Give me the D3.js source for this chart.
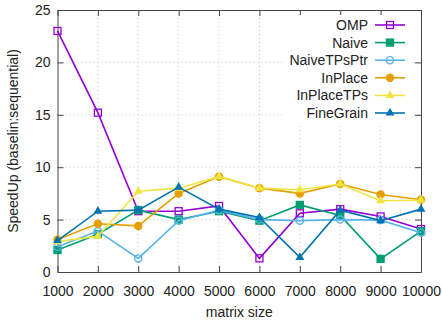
<!DOCTYPE html>
<html>
<head>
<meta charset="utf-8">
<script src="https://cdn.jsdelivr.net/npm/d3@7"></script>
<style>
  body { margin: 0; background: #fff; }
  text { font-family: "Liberation Sans", Arial, sans-serif; fill: #222; }
</style>
</head>
<body>
<div class="canvas"></div>
<script>
// data
const sizes = [1000, 2000, 3000, 4000, 5000, 6000, 7000, 8000, 9000, 10000];
const yTicks = [0, 5, 10, 15, 20, 25];

const omp = [23.0, 15.2, 5.8, 5.8, 6.3, 1.3, 5.6, 6.0, 5.3, 4.1];
const naive = [2.1, 3.6, 5.9, 5.0, 5.8, 4.9, 6.4, 5.4, 1.25, 3.9];
const naiveTPsPtr = [2.4, 3.9, 1.3, 4.9, 5.9, 5.0, 4.9, 5.0, 4.95, 3.75];
const inPlace = [3.1, 4.6, 4.4, 7.5, 9.1, 8.0, 7.5, 8.4, 7.4, 6.9];
const inPlaceTPs = [2.9, 3.4, 7.7, 8.0, 9.1, 8.0, 7.85, 8.4, 6.8, 6.85];
const fineGrain = [3.0, 5.8, 5.9, 8.1, 6.0, 5.2, 1.4, 5.9, 4.9, 6.0];

const seriesNames = ['OMP', 'Naive', 'NaiveTPsPtr', 'InPlace', 'InPlaceTPs', 'FineGrain'];
const seriesValues = [omp, naive, naiveTPsPtr, inPlace, inPlaceTPs, fineGrain];
const colors = ['#9400d3', '#009e73', '#56b4e9', '#e69f00', '#f0e442', '#0072b2'];
const markers = ['squareOpen', 'square', 'circleOpen', 'circle', 'triangle', 'triangle'];

const width = 442, height = 325;
const margin = { top: 10, right: 21, bottom: 53, left: 57.5 };
const graphWidth = width - margin.left - margin.right;
const graphHeight = height - margin.top - margin.bottom;

const svg = d3.select('.canvas')
  .append('svg')
  .attr('width', width)
  .attr('height', height);

const graph = svg.append('g')
  .attr('transform', `translate(${margin.left}, ${margin.top})`);

const x = d3.scaleLinear().domain([1000, 10000]).range([0, graphWidth]);
const y = d3.scaleLinear().domain([0, 25]).range([graphHeight, 0]);

// grid
graph.append('g').selectAll('line')
  .data(sizes.slice(1, -1))
  .enter().append('line')
  .attr('x1', d => x(d)).attr('x2', d => x(d))
  .attr('y1', 0).attr('y2', graphHeight)
  .attr('stroke', '#c8c8c8').attr('stroke-dasharray', '1,3');

graph.append('g').selectAll('line')
  .data(yTicks.slice(1, -1))
  .enter().append('line')
  .attr('x1', 0).attr('x2', graphWidth)
  .attr('y1', d => y(d)).attr('y2', d => y(d))
  .attr('stroke', '#c8c8c8').attr('stroke-dasharray', '1,3');

// axes (inward ticks, mirrored)
const xAxis = d3.axisBottom(x).tickValues(sizes).tickFormat(d3.format('d'))
  .tickSizeInner(-6).tickSizeOuter(0).tickPadding(14);
const yAxis = d3.axisLeft(y).tickValues(yTicks).tickFormat(d3.format('d'))
  .tickSizeInner(-6).tickSizeOuter(0).tickPadding(7);

const xAxisGroup = graph.append('g').attr('transform', `translate(0, ${graphHeight})`).call(xAxis);
const yAxisGroup = graph.append('g').call(yAxis);
graph.append('g').call(d3.axisTop(x).tickValues(sizes).tickSizeInner(-6).tickSizeOuter(0).tickFormat(''));
graph.append('g').attr('transform', `translate(${graphWidth}, 0)`)
  .call(d3.axisRight(y).tickValues(yTicks).tickSizeInner(-6).tickSizeOuter(0).tickFormat(''));

graph.selectAll('.domain').attr('stroke', '#444');
graph.selectAll('.tick line').attr('stroke', '#444');
graph.selectAll('.tick text').attr('font-size', 14).attr('fill', '#222')
  .style('font-family', '"Liberation Sans", Arial, sans-serif');

// marker drawing
const drawMarker = (sel, kind, color) => {
  if (kind === 'squareOpen' || kind === 'square') {
    sel.append('rect').attr('x', -3.5).attr('y', -3.5).attr('width', 7).attr('height', 7)
      .attr('fill', kind === 'square' ? color : 'none')
      .attr('stroke', color).attr('stroke-width', 1.3);
  } else if (kind === 'circleOpen' || kind === 'circle') {
    sel.append('circle').attr('r', 3.6)
      .attr('fill', kind === 'circle' ? color : 'none')
      .attr('stroke', color).attr('stroke-width', 1.3);
  } else {
    sel.append('path').attr('d', d3.symbol(d3.symbolTriangle, 34)())
      .attr('fill', color);
  }
};

const line = d3.line().x((d, i) => x(sizes[i])).y(d => y(d));

seriesValues.forEach((vals, k) => {
  const g = graph.append('g');
  g.append('path').datum(vals)
    .attr('d', line)
    .attr('fill', 'none')
    .attr('stroke', colors[k])
    .attr('stroke-width', 1.6);
  g.selectAll('g.pt')
    .data(vals)
    .enter().append('g')
    .attr('class', 'pt')
    .attr('transform', (d, i) => `translate(${x(sizes[i])}, ${y(d)})`)
    .each(function () { drawMarker(d3.select(this), markers[k], colors[k]); });
});

// legend (opaque box)
const legend = svg.append('g');
legend.append('rect')
  .attr('x', 283).attr('y', 15).attr('width', 129).attr('height', 108)
  .attr('fill', '#fff');

seriesNames.forEach((name, k) => {
  const ly = 25 + k * 17.6;
  legend.append('text')
    .attr('x', 368).attr('y', ly).attr('dy', '0.35em')
    .attr('text-anchor', 'end').attr('font-size', 14)
    .text(name);
  legend.append('line')
    .attr('x1', 375).attr('x2', 405).attr('y1', ly).attr('y2', ly)
    .attr('stroke', colors[k]).attr('stroke-width', 1.6);
  const m = legend.append('g').attr('transform', `translate(390, ${ly})`);
  drawMarker(m, markers[k], colors[k]);
});

// axis titles
svg.append('text')
  .attr('x', margin.left + graphWidth / 2).attr('y', 317)
  .attr('text-anchor', 'middle').attr('font-size', 14)
  .text('matrix size');

svg.append('text')
  .attr('transform', `translate(18, ${margin.top + graphHeight / 2}) rotate(-90)`)
  .attr('text-anchor', 'middle').attr('font-size', 14)
  .text('SpeedUp (baselin:sequential)');
</script>
</body>
</html>
